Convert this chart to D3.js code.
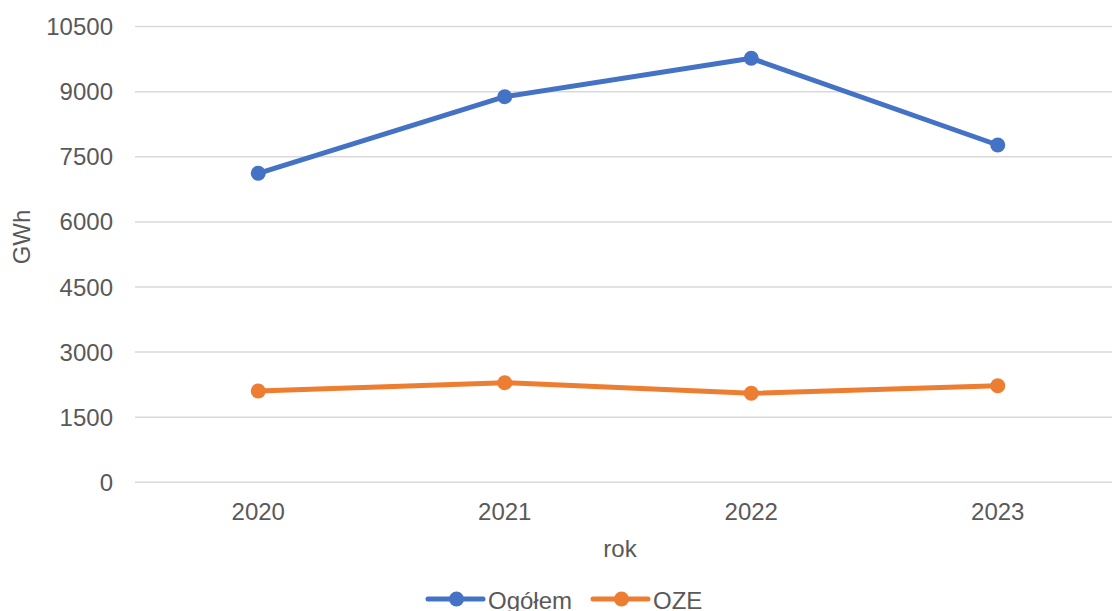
<!DOCTYPE html>
<html>
<meta charset="utf-8">
<script src="https://cdn.jsdelivr.net/npm/d3@7"></script>
<style>
  body { margin: 0; background: white; }
  text { font-family: "Liberation Sans", Arial, sans-serif; fill: #595959; }
</style>
<body>
<div id="chart"></div>
<script>

var years = ["2020", "2021", "2022", "2023"]
var ogolem = [7120, 8885, 9770, 7772]
var oze = [2104, 2295, 2051, 2226]
var yTicks = [0, 1500, 3000, 4500, 6000, 7500, 9000, 10500]
var seriesNames = ["Ogółem", "OZE"]
var seriesCols = ["#4472C4", "#ED7D31"]

var width = 1112, height = 611
var plotLeft = 135, plotRight = 1121, plotTop = 26.6, plotBottom = 482.3

var svg = d3.select("#chart").append("svg")
  .attr("width", width)
  .attr("height", height)

var x = d3.scalePoint().domain(years).range([plotLeft, plotRight]).padding(0.5)
var y = d3.scaleLinear().domain([0, 10500]).range([plotBottom, plotTop])

// gridlines
svg.append("g").selectAll("line").data(yTicks).enter().append("line")
  .attr("x1", plotLeft).attr("x2", plotRight)
  .attr("y1", function(d){ return y(d) }).attr("y2", function(d){ return y(d) })
  .attr("stroke", "#d9d9d9").attr("stroke-width", 1.5)

// y axis labels
svg.append("g").selectAll("text").data(yTicks).enter().append("text")
  .attr("x", 113).attr("y", function(d){ return y(d) + 8.5 })
  .attr("text-anchor", "end")
  .style("font-size", "24px")
  .text(function(d){ return d })

// x axis labels
svg.append("g").selectAll("text").data(years).enter().append("text")
  .attr("x", function(d){ return x(d) }).attr("y", 520)
  .attr("text-anchor", "middle")
  .style("font-size", "24px")
  .text(function(d){ return d })

svg.append("text").attr("x", 620).attr("y", 557)
  .attr("text-anchor", "middle").style("font-size", "24px").text("rok")

svg.append("text")
  .attr("transform", "translate(30,237) rotate(-90)")
  .attr("text-anchor", "middle").style("font-size", "24px").text("GWh")

var line = d3.line()
  .x(function(d, i){ return x(years[i]) })
  .y(function(d){ return y(d) })

var allSeries = [ogolem, oze]
allSeries.forEach(function(s, k){
  svg.append("path").datum(s)
    .attr("d", line)
    .attr("fill", "none")
    .attr("stroke", seriesCols[k])
    .attr("stroke-width", 5)
    .attr("stroke-linejoin", "round")
    .attr("stroke-linecap", "round")
  svg.append("g").selectAll("circle").data(s).enter().append("circle")
    .attr("cx", function(d, i){ return x(years[i]) })
    .attr("cy", function(d){ return y(d) })
    .attr("r", 7.5)
    .attr("fill", seriesCols[k])
})

// legend
var legX = [428, 593]
seriesNames.forEach(function(name, k){
  var g = svg.append("g").attr("transform", "translate(" + legX[k] + ",599)")
  g.append("line").attr("x1", 0).attr("x2", 55).attr("y1", 0).attr("y2", 0)
    .attr("stroke", seriesCols[k]).attr("stroke-width", 5).attr("stroke-linecap", "round")
  g.append("circle").attr("cx", 28.5).attr("cy", 0).attr("r", 7.5).attr("fill", seriesCols[k])
  g.append("text").attr("x", 60).attr("y", 9.5).style("font-size", "24px").text(name)
})

</script>
</body>
</html>
